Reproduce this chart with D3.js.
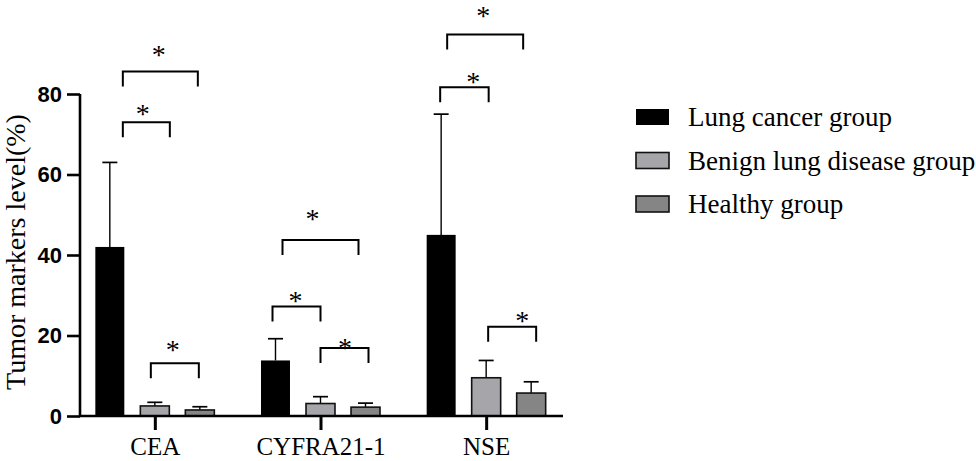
<!DOCTYPE html>
<html><head><meta charset="utf-8">
<script src="https://cdn.jsdelivr.net/npm/d3@7"></script>
<style>body{margin:0;background:#fff}svg{display:block}text{fill:#000}</style>
</head><body>
<script>
// ---- data ----
const categories = ["CEA", "CYFRA21-1", "NSE"];
const seriesNames = ["Lung cancer group", "Benign lung disease group", "Healthy group"];
const lungCancer = [42, 13.8, 45];
const lungCancerSD = [21, 5.4, 30];
const benign = [2.5, 3.1, 9.5];
const benignSD = [0.9, 1.7, 4.3];
const healthy = [1.5, 2.2, 5.7];
const healthySD = [0.8, 1.0, 2.8];
const yTicks = [0, 20, 40, 60, 80];
// significance brackets: category, level (data units), star text
const bracketCat = ["CEA","CEA","CEA","CYFRA21-1","CYFRA21-1","CYFRA21-1","NSE","NSE","NSE"];
const bracketLevel = [85.6, 73.0, 13.1, 43.7, 27.2, 16.9, 94.8, 81.7, 22.2];
const bracketLabel = ["*","*","*","*","*","*","*","*","*"];
// layout tweaks for brackets (px offsets from category centre)
const bracketX0 = [-32, -32, -4, -38, -48, 0, -39, -46, 2];
const bracketX1 = [43, 15, 44, 38, 0, 48, 37, 2.5, 50];
const starDx = [4, -12, 18, -8, -25, 24.5, -3, -13, 36];
const starDy = [21.5, 13.5, 18.5, 26, 11, 5, 23, 10.5, 11];

const values = [lungCancer, benign, healthy];
const sds = [lungCancerSD, benignSD, healthySD];
const fills = ["#000000", "#a6a6aa", "#858585"];

const W = 976, H = 461;
const serif = "Liberation Serif, Times New Roman, serif";
const svg = d3.select("body").append("svg").attr("width", W).attr("height", H);

const y = d3.scaleLinear().domain([0, 80]).range([416, 94]);
const x0 = d3.scaleBand().domain(categories).range([72, 569]).padding(0);
const x1 = d3.scaleBand().domain(seriesNames).range([-59.5, 59.5]).paddingInner(0.356).paddingOuter(0);
const cx = c => x0(c) + x0.bandwidth() / 2;

const barData = [];
categories.forEach((c, i) => seriesNames.forEach((s, j) => {
  barData.push({c, s, j, v: values[j][i], sd: sds[j][i]});
}));

const g = svg.append("g");
barData.forEach(d => {
  const xc = cx(d.c) + x1(d.s) + x1.bandwidth() / 2;
  g.append("line").attr("x1", xc).attr("x2", xc).attr("y1", y(d.v)).attr("y2", y(d.v + d.sd))
    .attr("stroke", "#000").attr("stroke-width", 1.4);
  g.append("line").attr("x1", xc - 7.5).attr("x2", xc + 7.5).attr("y1", y(d.v + d.sd)).attr("y2", y(d.v + d.sd))
    .attr("stroke", "#000").attr("stroke-width", 1.7);
});
barData.forEach(d => {
  const xl = cx(d.c) + x1(d.s);
  g.append("rect").attr("x", xl).attr("width", x1.bandwidth())
    .attr("y", y(d.v)).attr("height", y(0) - y(d.v))
    .attr("fill", fills[d.j]).attr("stroke", "#111").attr("stroke-width", d.j === 0 ? 0 : 1.6);
});

// axes
const yAxis = d3.axisLeft(y).tickValues(yTicks).tickSize(13).tickPadding(5);
const ya = svg.append("g").attr("transform", "translate(80,0)").call(yAxis);
ya.select(".domain").attr("stroke-width", 2.6).attr("d", `M0,${y(80)}V${y(0)}`);
ya.selectAll(".tick line").attr("stroke-width", 2.6);
ya.selectAll("text").attr("font-family", "Liberation Sans, Arial, sans-serif").attr("font-weight", "bold")
  .attr("font-size", 22).attr("fill", "#000");

const xAxisScale = d3.scalePoint().domain(categories).range([cx(categories[0]), cx(categories[2])]);
const xa = svg.append("g").attr("transform", `translate(0,${y(0)})`)
  .call(d3.axisBottom(xAxisScale).tickSize(14).tickPadding(7));
xa.select(".domain").attr("d", "M79,0H563").attr("stroke-width", 2.6);
xa.selectAll(".tick line").attr("stroke-width", 3);
xa.selectAll("text").attr("font-family", serif).attr("font-size", 25).attr("fill", "#000");

// y label
svg.append("text").attr("transform", "translate(25,252) rotate(-90)")
  .attr("text-anchor", "middle").attr("font-family", serif)
  .attr("font-size", 28).text("Tumor markers level(%)");

// brackets
bracketCat.forEach((c, i) => {
  const yl = y(bracketLevel[i]);
  const xa0 = cx(c) + bracketX0[i], xa1 = cx(c) + bracketX1[i];
  svg.append("path").attr("d", `M${xa0},${yl + 15}V${yl}H${xa1}V${yl + 15}`)
    .attr("fill", "none").attr("stroke", "#000").attr("stroke-width", 2);
  svg.append("text").attr("x", cx(c) + starDx[i]).attr("y", yl - starDy[i] + 14)
    .attr("text-anchor", "middle").attr("font-family", serif)
    .attr("font-size", 28).text(bracketLabel[i]);
});

// legend
const lg = svg.append("g");
seriesNames.forEach((s, j) => {
  const yy = 117 + j * 43.5;
  lg.append("rect").attr("x", 636).attr("y", yy - 8).attr("width", 33).attr("height", 16)
    .attr("fill", fills[j]).attr("stroke", "#111").attr("stroke-width", j === 0 ? 0 : 1.6);
  lg.append("text").attr("x", 688).attr("y", yy + 9).attr("font-family", serif)
    .attr("font-size", 27).text(s);
});
</script>
</body></html>
